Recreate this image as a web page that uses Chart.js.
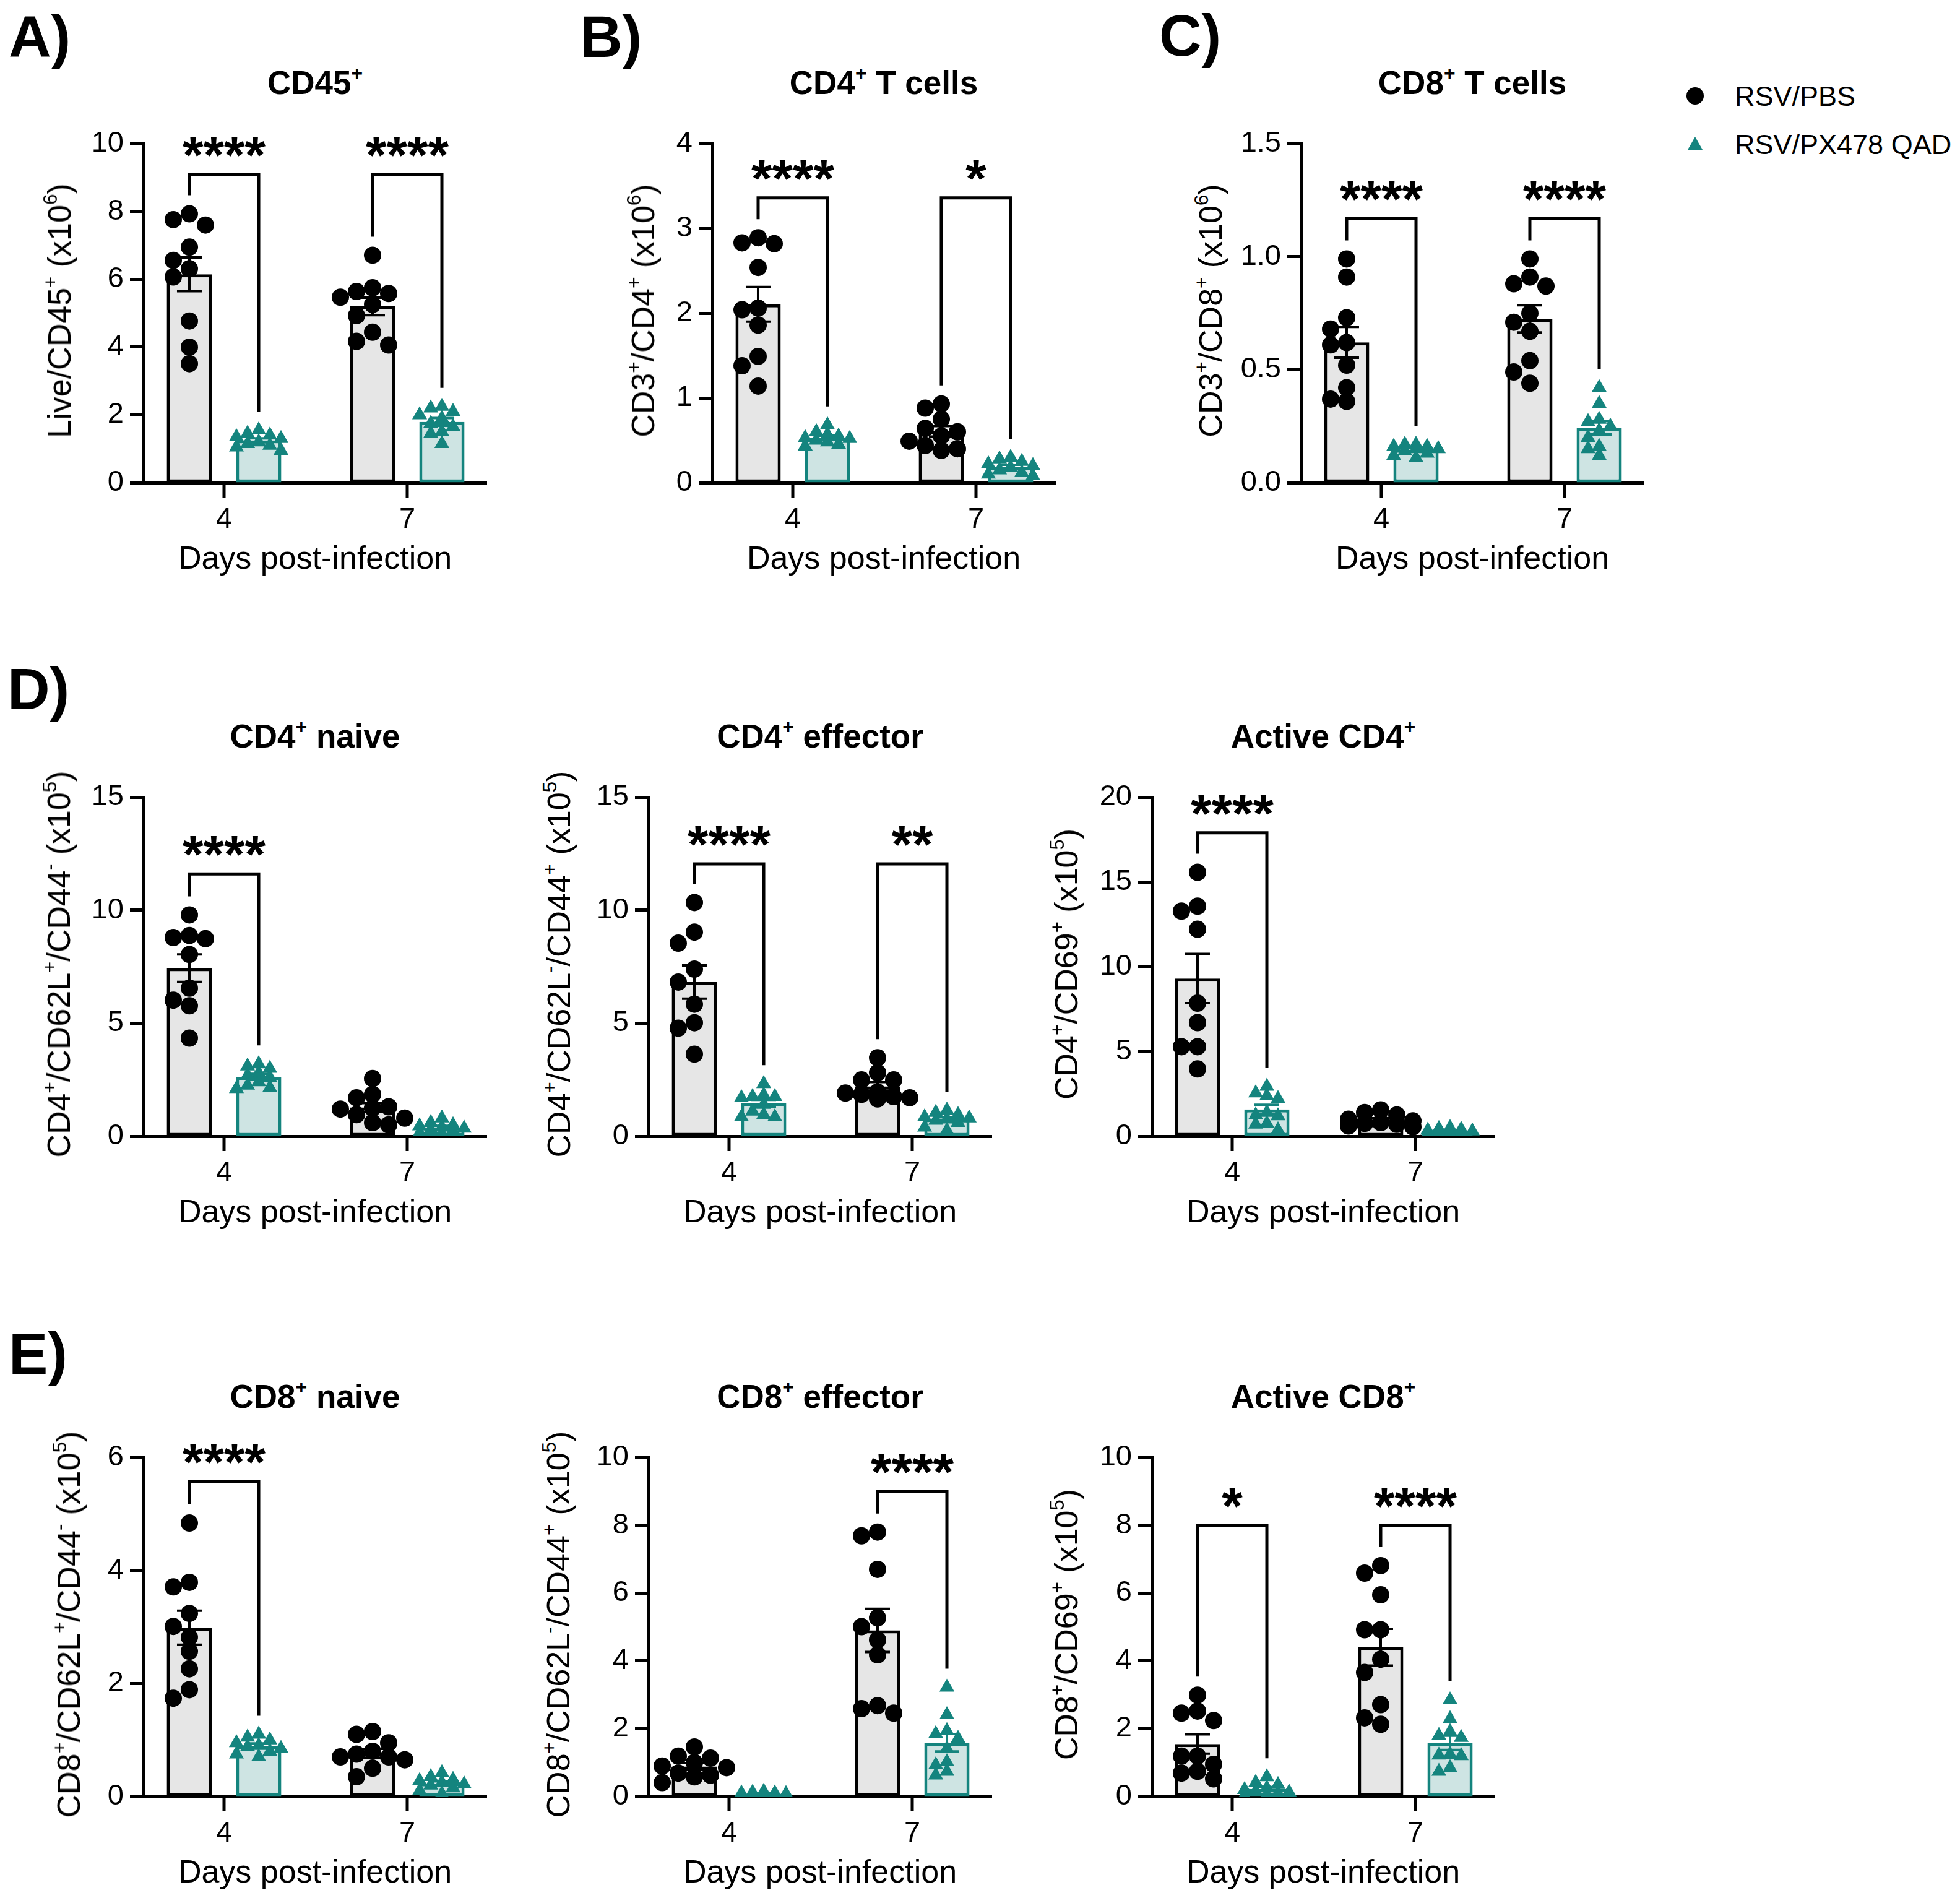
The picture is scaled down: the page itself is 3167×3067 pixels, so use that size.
<!DOCTYPE html>
<html>
<head>
<meta charset="utf-8">
<script src="https://cdn.jsdelivr.net/npm/chart.js@4.4.1/dist/chart.umd.min.js"></script>
<style>
html, body { margin: 0; padding: 0; background: #fff; }
#page { position: relative; width: 3167px; height: 3067px; background: #fff; overflow: hidden;
  font-family: "Liberation Sans", Arial, sans-serif; color: #000; }
canvas { position: absolute; }
.lbl { position: absolute; white-space: nowrap; line-height: 1; }
.letter { font-weight: bold; font-size: 95px; }
.title { font-weight: bold; font-size: 53px; transform: translate(-50%, -50%); }
.xt { font-size: 52px; transform: translate(-50%, -50%); }
.yt { font-size: 52px; transform: translate(-50%, -50%) rotate(-90deg); }
.leg { font-size: 45px; transform: translateY(-50%); }
sup { font-size: 0.6em; line-height: 0; vertical-align: 0; position: relative; top: -0.72em; }
</style>
</head>
<body>
<div id="page"></div>
<script>
// x categories and legend
const dayLabels = ['4', '7'];
const dayValues = [4, 7];
const seriesNames = ['RSV/PBS', 'RSV/PX478 QAD'];

// A) CD45+  (x10^6)  [day 4, day 7]
const cd45Pbs = [[7.93, 7.76, 7.60, 6.95, 6.56, 6.31, 6.07, 4.77, 4.00, 3.51],
                 [6.71, 5.75, 5.64, 5.58, 5.47, 5.26, 4.93, 4.44, 4.17, 4.06]];
const cd45Px = [[1.55, 1.45, 1.40, 1.35, 1.30, 1.20, 1.15, 1.10, 1.05, 0.95],
                [2.25, 2.20, 2.10, 2.00, 1.90, 1.75, 1.65, 1.50, 1.45, 1.15]];
const cd45Sig = ['****', '****'];
const cd45Bracket = [9.1, 9.1];

// B) CD4+ T cells (x10^6)
const cd4Pbs = [[2.89, 2.83, 2.82, 2.54, 2.06, 2.04, 1.86, 1.49, 1.38, 1.14],
                [0.93, 0.88, 0.75, 0.64, 0.60, 0.55, 0.49, 0.44, 0.40, 0.38]];
const cd4Px = [[0.68, 0.60, 0.57, 0.55, 0.53, 0.52, 0.50, 0.48, 0.45, 0.43],
               [0.30, 0.28, 0.25, 0.22, 0.20, 0.18, 0.15, 0.12, 0.10, 0.08]];
const cd4Sig = ['****', '*'];
const cd4Bracket = [3.36, 3.36];

// C) CD8+ T cells (x10^6)
const cd8Pbs = [[0.99, 0.91, 0.73, 0.68, 0.62, 0.61, 0.52, 0.42, 0.37, 0.36],
                [0.99, 0.91, 0.88, 0.87, 0.75, 0.71, 0.67, 0.54, 0.49, 0.44]];
const cd8Px = [[0.17, 0.17, 0.16, 0.16, 0.15, 0.15, 0.14, 0.13, 0.12, 0.11],
               [0.42, 0.35, 0.28, 0.27, 0.25, 0.23, 0.20, 0.16, 0.15, 0.12]];
const cd8Sig = ['****', '****'];
const cd8Bracket = [1.17, 1.17];

// D) CD4+ naive (x10^5)
const cd4NaivePbs = [[9.79, 8.88, 8.79, 8.74, 8.04, 6.55, 6.02, 5.77, 4.34],
                     [2.55, 1.85, 1.70, 1.30, 1.25, 1.20, 0.95, 0.80, 0.60, 0.50]];
const cd4NaivePx = [[3.20, 3.10, 3.00, 2.80, 2.70, 2.60, 2.40, 2.25, 2.15, 2.10],
                    [0.80, 0.60, 0.50, 0.45, 0.40, 0.35, 0.30, 0.25, 0.15, 0.10]];
const cd4NaiveSig = ['****', null];
const cd4NaiveBracket = [11.6, null];

// D) CD4+ effector (x10^5)
const cd4EffPbs = [[10.34, 9.03, 8.54, 7.39, 6.82, 5.84, 5.02, 4.78, 3.63],
                   [3.47, 2.81, 2.49, 2.49, 1.95, 1.91, 1.85, 1.75, 1.70, 1.65]];
const cd4EffPx = [[2.32, 1.83, 1.75, 1.75, 1.70, 1.40, 1.10, 0.95, 0.85, 0.85],
                  [1.15, 1.05, 0.95, 0.85, 0.80, 0.75, 0.70, 0.60, 0.40, 0.25]];
const cd4EffSig = ['****', '**'];
const cd4EffBracket = [12.05, 12.05];

// D) Active CD4+ (x10^5)
const cd4ActPbs = [[15.57, 13.57, 13.28, 12.21, 7.85, 6.70, 5.28, 5.28, 3.97],
                   [1.55, 1.40, 1.25, 1.00, 0.90, 0.80, 0.75, 0.70, 0.60, 0.55]];
const cd4ActPx = [[2.94, 2.55, 2.38, 2.22, 1.40, 1.24, 1.20, 0.76, 0.70, 0.37],
                  [0.50, 0.45, 0.40, 0.35, 0.30, 0.30, 0.25, 0.20, 0.15, 0.10]];
const cd4ActSig = ['****', null];
const cd4ActBracket = [17.9, null];

// E) CD8+ naive (x10^5)
const cd8NaivePbs = [[4.84, 3.79, 3.71, 3.24, 3.01, 2.82, 2.57, 2.26, 1.89, 1.74],
                     [1.15, 1.10, 0.95, 0.80, 0.75, 0.70, 0.70, 0.65, 0.50, 0.35]];
const cd8NaivePx = [[1.10, 1.05, 1.00, 0.95, 0.90, 0.88, 0.85, 0.80, 0.75, 0.70],
                    [0.42, 0.35, 0.30, 0.28, 0.25, 0.22, 0.20, 0.15, 0.10, 0.05]];
const cd8NaiveSig = ['****', null];
const cd8NaiveBracket = [5.57, null];

// E) CD8+ effector (x10^5)
const cd8EffPbs = [[1.46, 1.19, 1.13, 1.00, 0.90, 0.85, 0.69, 0.63, 0.58, 0.41],
                   [7.80, 7.69, 6.70, 5.27, 5.01, 4.62, 4.18, 2.68, 2.59, 2.46]];
const cd8EffPx = [[0.15, 0.12, 0.10, 0.10, 0.08, 0.07, 0.06, 0.05, 0.04, 0.03],
                  [3.22, 2.41, 1.94, 1.85, 1.71, 1.41, 1.02, 0.93, 0.74, 0.63]];
const cd8EffSig = [null, '****'];
const cd8EffBracket = [null, 9.0];

// E) Active CD8+ (x10^5)
const cd8ActPbs = [[2.99, 2.52, 2.46, 2.24, 1.19, 1.19, 0.95, 0.74, 0.69, 0.52],
                   [6.81, 6.59, 5.95, 4.92, 4.92, 4.05, 3.66, 2.71, 2.32, 2.13]];
const cd8ActPx = [[0.58, 0.41, 0.35, 0.25, 0.20, 0.15, 0.13, 0.10, 0.05, 0.03],
                  [2.85, 2.29, 1.91, 1.80, 1.74, 1.24, 1.22, 1.20, 0.85, 0.74]];
const cd8ActSig = ['*', '****'];
const cd8ActBracket = [8.0, 8.0];

const TEAL = '#14847e';
const TEAL_FILL = '#cee4e3';
const GREY_FILL = '#e6e6e6';
const FONT = '"Liberation Sans", Arial, sans-serif';

// plot geometry (px)
const PLOT_W = 554, PLOT_H = 556;
const AXIS_W = 110, AXIS_H = 100, PAD_T = 30, PAD_R = 20;
const TICK_LEN = 22;
const PX_X = 296 / 3;                 // px per day on the x axis
const X_MIN = 4 - 130 / PX_X;
const X_MAX = X_MIN + PLOT_W / PX_X;
const SIDE = 56;                      // bar offset from the day tick

const panels = [
  { title: 'CD45<sup>+</sup>', yTitle: 'Live/CD45<sup>+</sup> (x10<sup>6</sup>)',
    pbs: cd45Pbs, px: cd45Px, sig: cd45Sig, bracket: cd45Bracket, yMax: 10, yStep: 2, left: 232, top: 224, gap: 136 },
  { title: 'CD4<sup>+</sup> T cells', yTitle: 'CD3<sup>+</sup>/CD4<sup>+</sup> (x10<sup>6</sup>)',
    pbs: cd4Pbs, px: cd4Px, sig: cd4Sig, bracket: cd4Bracket, yMax: 4, yStep: 1, left: 1151, top: 224, gap: 112 },
  { title: 'CD8<sup>+</sup> T cells', yTitle: 'CD3<sup>+</sup>/CD8<sup>+</sup> (x10<sup>6</sup>)',
    pbs: cd8Pbs, px: cd8Px, sig: cd8Sig, bracket: cd8Bracket, yMax: 1.5, yStep: 0.5, fixed: 1, left: 2102, top: 224, gap: 146 },
  { title: 'CD4<sup>+</sup> naive', yTitle: 'CD4<sup>+</sup>/CD62L<sup>+</sup>/CD44<sup>-</sup> (x10<sup>5</sup>)',
    pbs: cd4NaivePbs, px: cd4NaivePx, sig: cd4NaiveSig, bracket: cd4NaiveBracket, yMax: 15, yStep: 5, left: 232, top: 1280, gap: 137 },
  { title: 'CD4<sup>+</sup> effector', yTitle: 'CD4<sup>+</sup>/CD62L<sup>-</sup>/CD44<sup>+</sup> (x10<sup>5</sup>)',
    pbs: cd4EffPbs, px: cd4EffPx, sig: cd4EffSig, bracket: cd4EffBracket, yMax: 15, yStep: 5, left: 1048, top: 1280, gap: 145 },
  { title: 'Active CD4<sup>+</sup>', yTitle: 'CD4<sup>+</sup>/CD69<sup>+</sup> (x10<sup>5</sup>)',
    pbs: cd4ActPbs, px: cd4ActPx, sig: cd4ActSig, bracket: cd4ActBracket, yMax: 20, yStep: 5, left: 1861, top: 1280, gap: 138 },
  { title: 'CD8<sup>+</sup> naive', yTitle: 'CD8<sup>+</sup>/CD62L<sup>+</sup>/CD44<sup>-</sup> (x10<sup>5</sup>)',
    pbs: cd8NaivePbs, px: cd8NaivePx, sig: cd8NaiveSig, bracket: cd8NaiveBracket, yMax: 6, yStep: 2, left: 232, top: 2347, gap: 121 },
  { title: 'CD8<sup>+</sup> effector', yTitle: 'CD8<sup>+</sup>/CD62L<sup>-</sup>/CD44<sup>+</sup> (x10<sup>5</sup>)',
    pbs: cd8EffPbs, px: cd8EffPx, sig: cd8EffSig, bracket: cd8EffBracket, yMax: 10, yStep: 2, left: 1048, top: 2347, gap: 146 },
  { title: 'Active CD8<sup>+</sup>', yTitle: 'CD8<sup>+</sup>/CD69<sup>+</sup> (x10<sup>5</sup>)',
    pbs: cd8ActPbs, px: cd8ActPx, sig: cd8ActSig, bracket: cd8ActBracket, yMax: 10, yStep: 2, left: 1861, top: 2347, gap: 138 }
];

const letters = [
  { text: 'A)', left: 14, top: 12 }, { text: 'B)', left: 937, top: 12 }, { text: 'C)', left: 1873, top: 10 },
  { text: 'D)', left: 12, top: 1066 }, { text: 'E)', left: 14, top: 2140 }
];

const page = document.getElementById('page');

function addLabel(cls, html, left, top) {
  const d = document.createElement('div');
  d.className = 'lbl ' + cls;
  d.innerHTML = html;
  d.style.left = left + 'px';
  d.style.top = top + 'px';
  page.appendChild(d);
  return d;
}

function mean(a) {
  return a.reduce((s, v) => s + v, 0) / a.length;
}

function sem(a) {
  const m = mean(a);
  const ss = a.reduce((s, v) => s + (v - m) * (v - m), 0);
  return Math.sqrt(ss / (a.length - 1)) / Math.sqrt(a.length);
}

// spread the dots sideways so they don't sit on top of each other
function swarm(values, day, side, pxY, step, minDist) {
  const placed = [];
  return values.map(v => {
    const yPx = v * pxY;
    let best = 0, bestD = -1;
    for (const k of [0, -1, 1, -2, 2]) {
      let d = Infinity;
      placed.forEach(p => { d = Math.min(d, Math.hypot(p[0] - k * step, p[1] - yPx)); });
      if (d >= minDist) { best = k; break; }
      if (d > bestD) { bestD = d; best = k; }
    }
    placed.push([best * step, yPx]);
    return { x: day + (side + best * step) / PX_X, y: v };
  });
}

function annotatePlugin(p) {
  return {
    id: 'annotate',
    afterDatasetsDraw(chart) {
      const ctx = chart.ctx;
      const y = chart.scales.y;
      const bars = [chart.getDatasetMeta(0), chart.getDatasetMeta(1)];

      // SEM error bars
      [p.pbs, p.px].forEach((groups, s) => {
        ctx.save();
        ctx.strokeStyle = s ? TEAL : '#000';
        ctx.lineWidth = 4;
        groups.forEach((vals, i) => {
          const m = mean(vals), e = sem(vals);
          const bx = bars[s].data[i].x;
          const y1 = y.getPixelForValue(m + e), y2 = y.getPixelForValue(Math.max(m - e, 0));
          ctx.beginPath();
          ctx.moveTo(bx, y1); ctx.lineTo(bx, y2);
          ctx.moveTo(bx - 20, y1); ctx.lineTo(bx + 20, y1);
          ctx.moveTo(bx - 20, y2); ctx.lineTo(bx + 20, y2);
          ctx.stroke();
        });
        ctx.restore();
      });

      // significance brackets
      p.sig.forEach((txt, i) => {
        if (!txt) return;
        const x1 = bars[0].data[i].x, x2 = bars[1].data[i].x;
        const top = y.getPixelForValue(p.bracket[i]);
        const l1 = y.getPixelForValue(Math.max(...p.pbs[i])) - 30;
        const l2 = y.getPixelForValue(Math.max(...p.px[i])) - 30;
        ctx.save();
        ctx.strokeStyle = '#000';
        ctx.lineWidth = 5;
        ctx.lineJoin = 'miter';
        ctx.beginPath();
        ctx.moveTo(x1, l1); ctx.lineTo(x1, top); ctx.lineTo(x2, top); ctx.lineTo(x2, l2);
        ctx.stroke();
        ctx.fillStyle = '#000';
        ctx.font = 'bold 86px ' + FONT;
        ctx.textAlign = 'center';
        ctx.textBaseline = 'alphabetic';
        ctx.fillText(txt, (x1 + x2) / 2, top - 2);
        ctx.restore();
      });
    },
    afterDraw(chart) {
      // x tick marks under the axis at each day
      const ctx = chart.ctx;
      const base = chart.scales.y.getPixelForValue(0);
      ctx.save();
      ctx.fillStyle = '#000';
      dayValues.forEach(v => {
        const px = chart.scales.x.getPixelForValue(v);
        ctx.fillRect(px - 2.5, base, 5, TICK_LEN + 2);
      });
      ctx.restore();
    }
  };
}

function drawPanel(p) {
  const canvas = document.createElement('canvas');
  const w = AXIS_W + PLOT_W + PAD_R, h = PAD_T + PLOT_H + AXIS_H;
  canvas.width = w; canvas.height = h;
  canvas.style.width = w + 'px'; canvas.style.height = h + 'px';
  canvas.style.left = (p.left - AXIS_W) + 'px';
  canvas.style.top = (p.top - PAD_T) + 'px';
  page.appendChild(canvas);

  const pxY = PLOT_H / p.yMax;
  const pbsPts = [], pxPts = [];
  dayValues.forEach((d, i) => {
    pbsPts.push(...swarm(p.pbs[i], d, -SIDE, pxY, 26, 22));
    pxPts.push(...swarm(p.px[i], d, SIDE, pxY, 18, 14));
  });

  const tickFont = { family: FONT, size: 47 };

  new Chart(canvas, {
    type: 'bar',
    data: {
      datasets: [
        { type: 'bar', label: seriesNames[0], order: 2,
          data: dayValues.map((d, i) => ({ x: d, y: mean(p.pbs[i]) })),
          backgroundColor: GREY_FILL, borderColor: '#000', borderWidth: 5, borderSkipped: false,
          categoryPercentage: 0.757, barPercentage: 0.652 },
        { type: 'bar', label: seriesNames[1], order: 2,
          data: dayValues.map((d, i) => ({ x: d, y: mean(p.px[i]) })),
          backgroundColor: TEAL_FILL, borderColor: TEAL, borderWidth: 5, borderSkipped: false,
          categoryPercentage: 0.757, barPercentage: 0.652 },
        { type: 'scatter', label: seriesNames[0], order: 1, data: pbsPts,
          pointStyle: 'circle', pointRadius: 14, backgroundColor: '#000', borderWidth: 0 },
        { type: 'scatter', label: seriesNames[1], order: 1, data: pxPts,
          pointStyle: 'triangle', pointRadius: 14, backgroundColor: TEAL, borderColor: TEAL, borderWidth: 0 }
      ]
    },
    options: {
      responsive: false,
      animation: false,
      devicePixelRatio: 1,
      layout: { padding: { top: PAD_T, right: PAD_R, left: 0, bottom: 0 } },
      plugins: { legend: { display: false }, tooltip: { enabled: false } },
      scales: {
        x: {
          type: 'linear', min: X_MIN, max: X_MAX, offset: false,
          afterBuildTicks: s => { s.ticks = dayValues.map(v => ({ value: v })); },
          afterFit: s => { s.height = AXIS_H; },
          ticks: { font: tickFont, color: '#000', padding: TICK_LEN + 10, maxRotation: 0, minRotation: 0,
                   callback: v => dayLabels[dayValues.indexOf(v)] },
          grid: { display: false, drawTicks: false },
          border: { display: true, color: '#000', width: 5 }
        },
        y: {
          min: 0, max: p.yMax,
          afterFit: s => { s.width = AXIS_W; },
          ticks: { stepSize: p.yStep, font: tickFont, color: '#000', padding: 10,
                   callback: v => p.fixed ? v.toFixed(p.fixed) : String(v) },
          grid: { display: true, drawOnChartArea: false, drawTicks: true,
                  tickLength: TICK_LEN, tickWidth: 5, tickColor: '#000' },
          border: { display: true, color: '#000', width: 5 }
        }
      }
    },
    plugins: [annotatePlugin(p)]
  });

  const cx = p.left + PLOT_W / 2;
  addLabel('title', p.title, cx, p.top - 91);
  addLabel('xt', 'Days post-infection', cx, p.top + PLOT_H + 121);
  addLabel('yt', p.yTitle, p.left - p.gap, p.top + PLOT_H / 2);
}

panels.forEach(drawPanel);
letters.forEach(l => addLabel('letter', l.text, l.left, l.top));

// legend
const legY = [155, 233];
addLabel('', '<svg width="30" height="30"><circle cx="15" cy="15" r="14" fill="#000"/></svg>', 2724, legY[0] - 15);
addLabel('', '<svg width="26" height="24"><polygon points="13,1 25,22 1,22" fill="' + TEAL + '"/></svg>', 2726, legY[1] - 13);
addLabel('leg', seriesNames[0], 2803, legY[0]);
addLabel('leg', seriesNames[1], 2803, legY[1]);
</script>
</body>
</html>
